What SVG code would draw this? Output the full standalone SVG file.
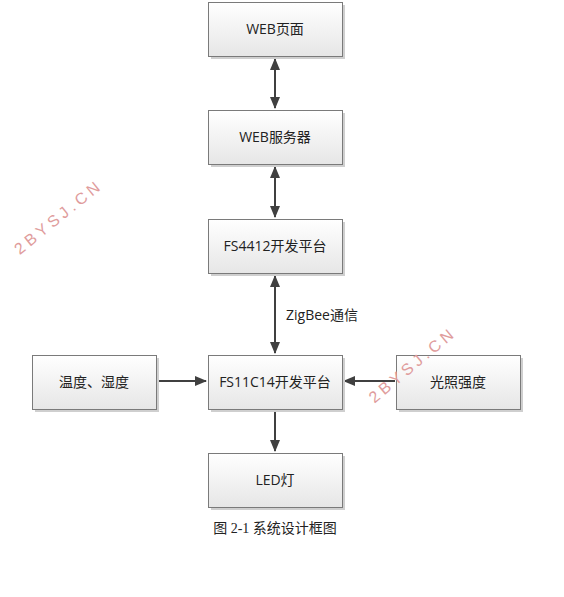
<svg xmlns="http://www.w3.org/2000/svg" width="564" height="597" viewBox="0 0 564 597">
<defs>
<linearGradient id="g" x1="0" y1="0" x2="0" y2="1">
<stop offset="0" stop-color="#ffffff"/>
<stop offset="1" stop-color="#e6e6e6"/>
</linearGradient>
<marker id="ah" viewBox="0 0 12 10" refX="11" refY="5" markerWidth="12" markerHeight="10" markerUnits="userSpaceOnUse" orient="auto-start-reverse">
<path d="M0,0 L12,5 L0,10 Z" fill="#404040"/>
</marker>
<style>
.sh{fill:#cfcfcf}
.bx{fill:url(#g);stroke:#7a7a7a;stroke-width:1}
.t{font-family:"Open Sans","Noto Sans CJK SC",sans-serif;font-size:14px;fill:#222;text-anchor:middle}
.ln{stroke:#404040;stroke-width:2;fill:none}
.wm{font-family:"Liberation Sans",sans-serif;font-size:16px;fill:#e09c9c;letter-spacing:4px;text-anchor:middle}
</style>
</defs>
<rect width="564" height="597" fill="#fff"/>
<g id="connectors">
<line class="ln" x1="275" y1="59" x2="275" y2="108" marker-start="url(#ah)" marker-end="url(#ah)"/>
<line class="ln" x1="275" y1="167" x2="275" y2="217" marker-start="url(#ah)" marker-end="url(#ah)"/>
<line class="ln" x1="275" y1="276" x2="275" y2="353" marker-start="url(#ah)" marker-end="url(#ah)"/>
<line class="ln" x1="157" y1="381" x2="206" y2="381" marker-end="url(#ah)"/>
<line class="ln" x1="395" y1="381" x2="344" y2="381" marker-end="url(#ah)"/>
<line class="ln" x1="275" y1="410" x2="275" y2="451" marker-end="url(#ah)"/>
<text class="t" x="322" y="320">ZigBee通信</text>
</g>
<g id="web">
<rect class="sh" x="211" y="5" width="134" height="54"/>
<rect class="bx" x="208.5" y="2.5" width="134" height="54"/>
<text class="t" x="275" y="34">WEB页面</text>
</g>
<g id="server">
<rect class="sh" x="211" y="113" width="134" height="54"/>
<rect class="bx" x="208.5" y="110.5" width="134" height="54"/>
<text class="t" x="275" y="142">WEB服务器</text>
</g>
<g id="fs4412">
<rect class="sh" x="211" y="222" width="134" height="54"/>
<rect class="bx" x="208.5" y="219.5" width="134" height="54"/>
<text class="t" x="275" y="251">FS4412开发平台</text>
</g>
<g id="fs11c14">
<rect class="sh" x="211" y="358" width="134" height="54"/>
<rect class="bx" x="208.5" y="355.5" width="134" height="54"/>
<text class="t" x="275" y="387">FS11C14开发平台</text>
</g>
<g id="temp">
<rect class="sh" x="35" y="358" width="124" height="54"/>
<rect class="bx" x="32.5" y="355.5" width="124" height="54"/>
<text class="t" x="94" y="387">温度、湿度</text>
</g>
<g id="light">
<rect class="sh" x="399" y="358" width="124" height="54"/>
<rect class="bx" x="396.5" y="355.5" width="124" height="54"/>
<text class="t" x="458" y="387">光照强度</text>
</g>
<g id="led">
<rect class="sh" x="211" y="456" width="134" height="54"/>
<rect class="bx" x="208.5" y="453.5" width="134" height="54"/>
<text class="t" x="275" y="485">LED灯</text>
</g>
<text x="275" y="533" font-family="'Liberation Serif','Noto Sans CJK SC',serif" font-size="14" fill="#222" text-anchor="middle">图 2-1  系统设计框图</text>
<text class="wm" transform="translate(62,221) rotate(-39)">2BYSJ.CN</text>
<text class="wm" transform="translate(416,369) rotate(-40)">2BYSJ.CN</text>
</svg>
